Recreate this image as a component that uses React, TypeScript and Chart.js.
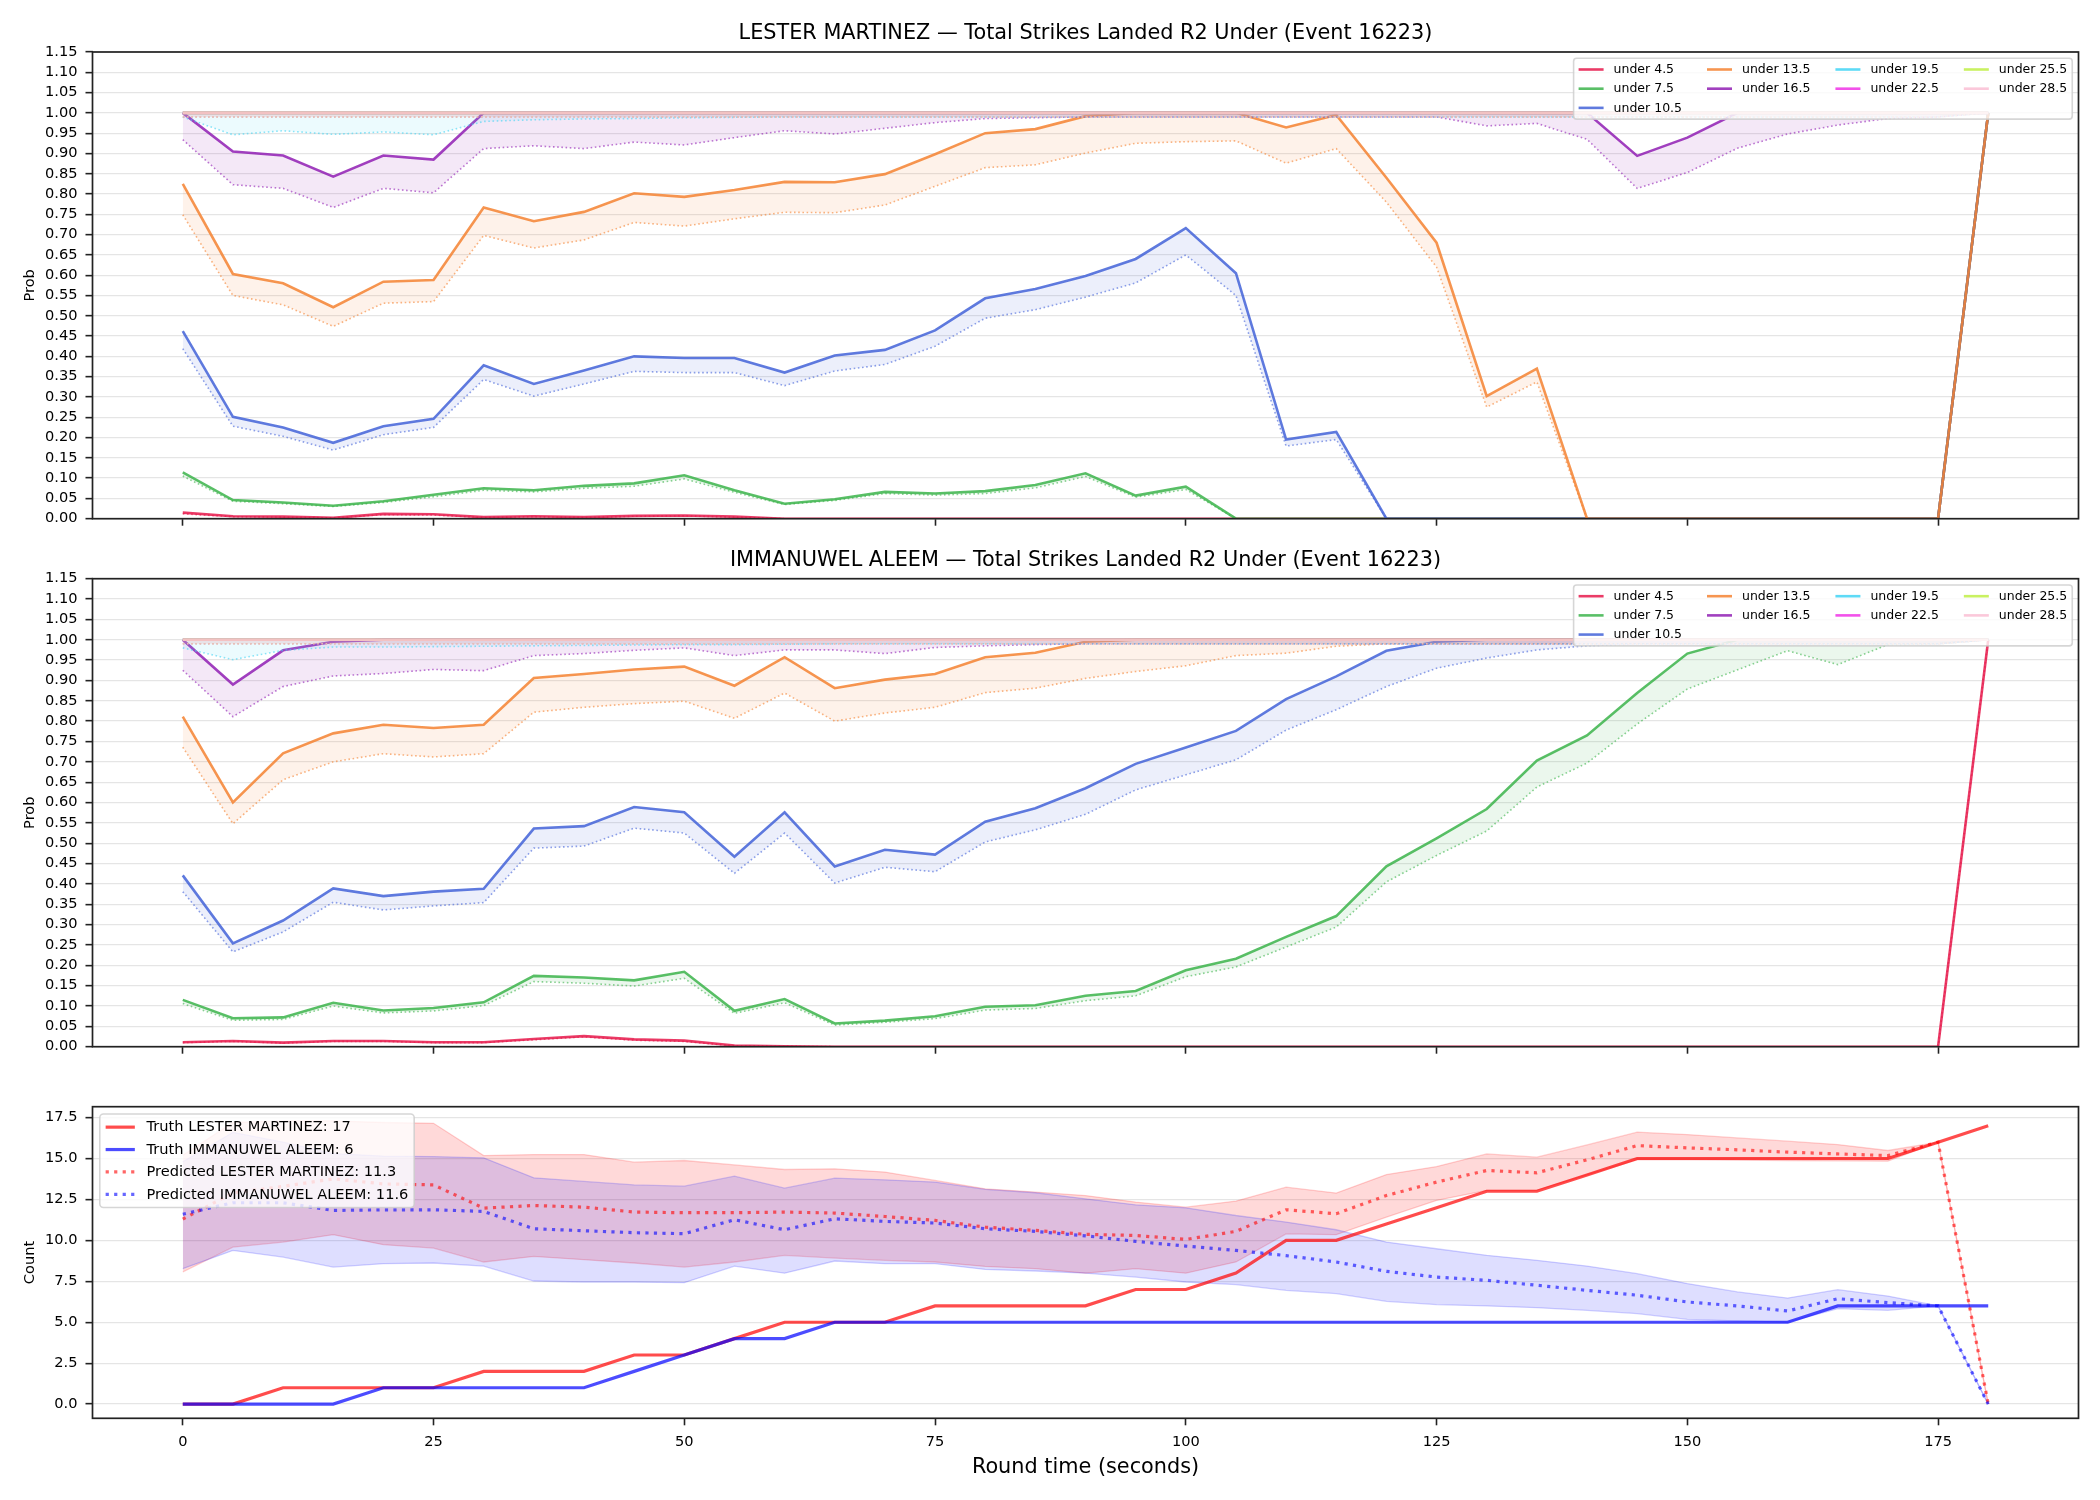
import React, { useEffect, useRef } from "react";
import { Chart, registerables } from "chart.js";

Chart.register(...registerables);

// ---------------------------------------------------------------------------
// Data
// ---------------------------------------------------------------------------
const TIMES = [0, 5, 10, 15, 20, 25, 30, 35, 40, 45, 50, 55, 60, 65, 70, 75, 80, 85, 90, 95, 100, 105, 110, 115, 120, 125, 130, 135, 140, 145, 150, 155, 160, 165, 170, 175, 180];
const TIME_TICKS = [0, 25, 50, 75, 100, 125, 150, 175];
const PROB_TICKS = [0, 0.05, 0.1, 0.15, 0.2, 0.25, 0.3, 0.35, 0.4, 0.45, 0.5, 0.55, 0.6, 0.65, 0.7, 0.75, 0.8, 0.85, 0.9, 0.95, 1.0, 1.05, 1.1, 1.15];
const COUNT_TICKS = [0, 2.5, 5, 7.5, 10, 12.5, 15, 17.5];

const FIGHTER_A = "LESTER MARTINEZ";
const FIGHTER_B = "IMMANUWEL ALEEM";
const EVENT_ID = 16223;

const THRESHOLDS = ["under 4.5", "under 7.5", "under 10.5", "under 13.5", "under 16.5", "under 19.5", "under 22.5", "under 25.5", "under 28.5"];
const SERIES_COLORS = ["#e6194B", "#3cb44b", "#4363d8", "#f58231", "#911eb4", "#42d4f4", "#f032e6", "#bfef45", "#fabed4"];

// LESTER MARTINEZ: live probability (solid) and model prediction (dotted)
const MARTINEZ_U4_5 = [0.015, 0.006, 0.005, 0.002, 0.012, 0.011, 0.004, 0.006, 0.004, 0.007, 0.008, 0.005, 0, 0, 0, 0, 0, 0, 0, 0, 0, 0, 0, 0, 0, 0, 0, 0, 0, 0, 0, 0, 0, 0, 0, 0, 1.0];
const MARTINEZ_U4_5_PRED = [0.012, 0.005, 0.004, 0.002, 0.010, 0.009, 0.003, 0.005, 0.003, 0.006, 0.007, 0.004, 0, 0, 0, 0, 0, 0, 0, 0, 0, 0, 0, 0, 0, 0, 0, 0, 0, 0, 0, 0, 0, 0, 0, 0, 1.0];
const MARTINEZ_U7_5 = [0.114, 0.046, 0.040, 0.032, 0.043, 0.059, 0.075, 0.070, 0.081, 0.087, 0.107, 0.070, 0.037, 0.048, 0.066, 0.062, 0.068, 0.083, 0.112, 0.057, 0.079, 0, 0, 0, 0, 0, 0, 0, 0, 0, 0, 0, 0, 0, 0, 0, 1.0];
const MARTINEZ_U7_5_PRED = [0.105, 0.043, 0.037, 0.030, 0.040, 0.054, 0.070, 0.066, 0.075, 0.080, 0.098, 0.065, 0.035, 0.045, 0.062, 0.058, 0.062, 0.076, 0.104, 0.053, 0.072, 0, 0, 0, 0, 0, 0, 0, 0, 0, 0, 0, 0, 0, 0, 0, 1.0];
const MARTINEZ_U10_5 = [0.462, 0.251, 0.225, 0.187, 0.228, 0.246, 0.378, 0.332, 0.365, 0.400, 0.396, 0.396, 0.360, 0.402, 0.416, 0.464, 0.543, 0.566, 0.598, 0.640, 0.716, 0.605, 0.195, 0.214, 0, 0, 0, 0, 0, 0, 0, 0, 0, 0, 0, 0, 1.0];
const MARTINEZ_U10_5_PRED = [0.419, 0.228, 0.203, 0.169, 0.207, 0.225, 0.343, 0.302, 0.332, 0.363, 0.360, 0.360, 0.328, 0.364, 0.380, 0.425, 0.494, 0.515, 0.546, 0.581, 0.650, 0.550, 0.179, 0.195, 0, 0, 0, 0, 0, 0, 0, 0, 0, 0, 0, 0, 1.0];
const MARTINEZ_U13_5 = [0.825, 0.603, 0.580, 0.521, 0.584, 0.588, 0.767, 0.733, 0.756, 0.802, 0.793, 0.810, 0.830, 0.829, 0.849, 0.898, 0.950, 0.960, 0.992, 1.0, 1.0, 1.0, 0.964, 0.995, 0.840, 0.680, 0.302, 0.370, 0, 0, 0, 0, 0, 0, 0, 0, 1.0];
const MARTINEZ_U13_5_PRED = [0.749, 0.550, 0.527, 0.474, 0.531, 0.535, 0.698, 0.667, 0.687, 0.730, 0.721, 0.739, 0.755, 0.754, 0.773, 0.819, 0.865, 0.872, 0.901, 0.925, 0.929, 0.931, 0.876, 0.912, 0.780, 0.620, 0.275, 0.337, 0, 0, 0, 0, 0, 0, 0, 0, 1.0];
const MARTINEZ_U16_5 = [1.0, 0.905, 0.895, 0.843, 0.895, 0.885, 1.0, 1.0, 1.0, 1.0, 1.0, 1.0, 1.0, 1.0, 1.0, 1.0, 1.0, 1.0, 1.0, 1.0, 1.0, 1.0, 1.0, 1.0, 1.0, 1.0, 1.0, 1.0, 1.0, 0.894, 0.939, 1.0, 1.0, 1.0, 1.0, 1.0, 1.0];
const MARTINEZ_U16_5_PRED = [0.934, 0.823, 0.814, 0.767, 0.814, 0.803, 0.912, 0.919, 0.912, 0.928, 0.921, 0.939, 0.956, 0.948, 0.962, 0.976, 0.986, 0.988, 0.990, 0.990, 0.990, 0.990, 0.990, 0.990, 0.990, 0.990, 0.968, 0.974, 0.935, 0.814, 0.853, 0.913, 0.948, 0.970, 0.986, 0.990, 1.0];
const MARTINEZ_U19_5 = [1.0, 1.0, 1.0, 1.0, 1.0, 1.0, 1.0, 1.0, 1.0, 1.0, 1.0, 1.0, 1.0, 1.0, 1.0, 1.0, 1.0, 1.0, 1.0, 1.0, 1.0, 1.0, 1.0, 1.0, 1.0, 1.0, 1.0, 1.0, 1.0, 1.0, 1.0, 1.0, 1.0, 1.0, 1.0, 1.0, 1.0];
const MARTINEZ_U19_5_PRED = [0.990, 0.946, 0.956, 0.947, 0.953, 0.946, 0.979, 0.983, 0.985, 0.986, 0.988, 0.989, 0.990, 0.990, 0.990, 0.990, 0.990, 0.990, 0.990, 0.990, 0.990, 0.990, 0.990, 0.990, 0.990, 0.990, 0.990, 0.990, 0.990, 0.990, 0.990, 0.990, 0.990, 0.990, 0.990, 0.990, 1.0];
const MARTINEZ_U22_5 = [1.0, 1.0, 1.0, 1.0, 1.0, 1.0, 1.0, 1.0, 1.0, 1.0, 1.0, 1.0, 1.0, 1.0, 1.0, 1.0, 1.0, 1.0, 1.0, 1.0, 1.0, 1.0, 1.0, 1.0, 1.0, 1.0, 1.0, 1.0, 1.0, 1.0, 1.0, 1.0, 1.0, 1.0, 1.0, 1.0, 1.0];
const MARTINEZ_U22_5_PRED = [0.990, 0.990, 0.990, 0.990, 0.990, 0.990, 0.990, 0.990, 0.990, 0.990, 0.990, 0.990, 0.990, 0.990, 0.990, 0.990, 0.990, 0.990, 0.990, 0.990, 0.990, 0.990, 0.990, 0.990, 0.990, 0.990, 0.990, 0.990, 0.990, 0.990, 0.990, 0.990, 0.990, 0.990, 0.990, 0.990, 1.0];
const MARTINEZ_U25_5 = [1.0, 1.0, 1.0, 1.0, 1.0, 1.0, 1.0, 1.0, 1.0, 1.0, 1.0, 1.0, 1.0, 1.0, 1.0, 1.0, 1.0, 1.0, 1.0, 1.0, 1.0, 1.0, 1.0, 1.0, 1.0, 1.0, 1.0, 1.0, 1.0, 1.0, 1.0, 1.0, 1.0, 1.0, 1.0, 1.0, 1.0];
const MARTINEZ_U25_5_PRED = [0.990, 0.990, 0.990, 0.990, 0.990, 0.990, 0.990, 0.990, 0.990, 0.990, 0.990, 0.990, 0.990, 0.990, 0.990, 0.990, 0.990, 0.990, 0.990, 0.990, 0.990, 0.990, 0.990, 0.990, 0.990, 0.990, 0.990, 0.990, 0.990, 0.990, 0.990, 0.990, 0.990, 0.990, 0.990, 0.990, 1.0];
const MARTINEZ_U28_5 = [1.0, 1.0, 1.0, 1.0, 1.0, 1.0, 1.0, 1.0, 1.0, 1.0, 1.0, 1.0, 1.0, 1.0, 1.0, 1.0, 1.0, 1.0, 1.0, 1.0, 1.0, 1.0, 1.0, 1.0, 1.0, 1.0, 1.0, 1.0, 1.0, 1.0, 1.0, 1.0, 1.0, 1.0, 1.0, 1.0, 1.0];
const MARTINEZ_U28_5_PRED = [0.990, 0.990, 0.990, 0.990, 0.990, 0.990, 0.990, 0.990, 0.990, 0.990, 0.990, 0.990, 0.990, 0.990, 0.990, 0.990, 0.990, 0.990, 0.990, 0.990, 0.990, 0.990, 0.990, 0.990, 0.990, 0.990, 0.990, 0.990, 0.990, 0.990, 0.990, 0.990, 0.990, 0.990, 0.990, 0.990, 1.0];

// IMMANUWEL ALEEM: live probability (solid) and model prediction (dotted)
const ALEEM_U4_5 = [0.011, 0.014, 0.010, 0.014, 0.014, 0.011, 0.011, 0.019, 0.026, 0.018, 0.015, 0.003, 0.001, 0, 0, 0, 0, 0, 0, 0, 0, 0, 0, 0, 0, 0, 0, 0, 0, 0, 0, 0, 0, 0, 0, 0, 1.0];
const ALEEM_U4_5_PRED = [0.010, 0.013, 0.009, 0.013, 0.013, 0.010, 0.010, 0.017, 0.024, 0.016, 0.013, 0.002, 0.001, 0, 0, 0, 0, 0, 0, 0, 0, 0, 0, 0, 0, 0, 0, 0, 0, 0, 0, 0, 0, 0, 0, 0, 1.0];
const ALEEM_U7_5 = [0.115, 0.070, 0.072, 0.108, 0.089, 0.095, 0.109, 0.174, 0.170, 0.163, 0.184, 0.088, 0.117, 0.057, 0.064, 0.075, 0.098, 0.102, 0.125, 0.137, 0.188, 0.216, 0.270, 0.321, 0.443, 0.512, 0.584, 0.703, 0.765, 0.869, 0.966, 1.0, 1.0, 1.0, 1.0, 1.0, 1.0];
const ALEEM_U7_5_PRED = [0.106, 0.065, 0.067, 0.100, 0.083, 0.088, 0.101, 0.160, 0.156, 0.149, 0.168, 0.082, 0.108, 0.053, 0.060, 0.069, 0.090, 0.094, 0.113, 0.125, 0.172, 0.196, 0.245, 0.294, 0.405, 0.470, 0.530, 0.638, 0.697, 0.793, 0.879, 0.926, 0.973, 0.939, 0.988, 0.990, 1.0];
const ALEEM_U10_5 = [0.421, 0.254, 0.310, 0.389, 0.370, 0.381, 0.388, 0.536, 0.542, 0.589, 0.576, 0.467, 0.576, 0.443, 0.484, 0.472, 0.553, 0.586, 0.635, 0.695, 0.735, 0.776, 0.854, 0.910, 0.973, 0.995, 1.0, 1.0, 1.0, 1.0, 1.0, 1.0, 1.0, 1.0, 1.0, 1.0, 1.0];
const ALEEM_U10_5_PRED = [0.381, 0.233, 0.282, 0.355, 0.336, 0.346, 0.354, 0.488, 0.493, 0.537, 0.525, 0.426, 0.525, 0.402, 0.441, 0.430, 0.503, 0.533, 0.571, 0.631, 0.668, 0.705, 0.778, 0.828, 0.885, 0.930, 0.955, 0.975, 0.985, 0.990, 0.990, 0.990, 0.990, 0.990, 0.990, 0.990, 1.0];
const ALEEM_U13_5 = [0.811, 0.600, 0.721, 0.770, 0.791, 0.783, 0.791, 0.906, 0.916, 0.927, 0.934, 0.887, 0.957, 0.881, 0.902, 0.916, 0.957, 0.968, 0.995, 1.0, 1.0, 1.0, 1.0, 1.0, 1.0, 1.0, 1.0, 1.0, 1.0, 1.0, 1.0, 1.0, 1.0, 1.0, 1.0, 1.0, 1.0];
const ALEEM_U13_5_PRED = [0.736, 0.548, 0.656, 0.700, 0.720, 0.712, 0.720, 0.822, 0.834, 0.843, 0.849, 0.807, 0.869, 0.800, 0.820, 0.834, 0.870, 0.881, 0.905, 0.922, 0.936, 0.961, 0.967, 0.984, 0.990, 0.990, 0.990, 0.990, 0.990, 0.990, 0.990, 0.990, 0.990, 0.990, 0.990, 0.990, 1.0];
const ALEEM_U16_5 = [1.0, 0.890, 0.974, 0.995, 1.0, 1.0, 1.0, 1.0, 1.0, 1.0, 1.0, 1.0, 1.0, 1.0, 1.0, 1.0, 1.0, 1.0, 1.0, 1.0, 1.0, 1.0, 1.0, 1.0, 1.0, 1.0, 1.0, 1.0, 1.0, 1.0, 1.0, 1.0, 1.0, 1.0, 1.0, 1.0, 1.0];
const ALEEM_U16_5_PRED = [0.925, 0.811, 0.885, 0.911, 0.917, 0.927, 0.924, 0.961, 0.966, 0.974, 0.980, 0.961, 0.975, 0.975, 0.966, 0.981, 0.985, 0.988, 0.990, 0.990, 0.990, 0.990, 0.990, 0.990, 0.990, 0.990, 0.990, 0.990, 0.990, 0.990, 0.990, 0.990, 0.990, 0.990, 0.990, 0.990, 1.0];
const ALEEM_U19_5 = [1.0, 1.0, 1.0, 1.0, 1.0, 1.0, 1.0, 1.0, 1.0, 1.0, 1.0, 1.0, 1.0, 1.0, 1.0, 1.0, 1.0, 1.0, 1.0, 1.0, 1.0, 1.0, 1.0, 1.0, 1.0, 1.0, 1.0, 1.0, 1.0, 1.0, 1.0, 1.0, 1.0, 1.0, 1.0, 1.0, 1.0];
const ALEEM_U19_5_PRED = [0.980, 0.951, 0.974, 0.982, 0.982, 0.983, 0.984, 0.985, 0.986, 0.987, 0.988, 0.988, 0.989, 0.990, 0.990, 0.990, 0.990, 0.990, 0.990, 0.990, 0.990, 0.990, 0.990, 0.990, 0.990, 0.990, 0.990, 0.990, 0.990, 0.990, 0.990, 0.990, 0.990, 0.990, 0.990, 0.990, 1.0];
const ALEEM_U22_5 = [1.0, 1.0, 1.0, 1.0, 1.0, 1.0, 1.0, 1.0, 1.0, 1.0, 1.0, 1.0, 1.0, 1.0, 1.0, 1.0, 1.0, 1.0, 1.0, 1.0, 1.0, 1.0, 1.0, 1.0, 1.0, 1.0, 1.0, 1.0, 1.0, 1.0, 1.0, 1.0, 1.0, 1.0, 1.0, 1.0, 1.0];
const ALEEM_U22_5_PRED = [0.990, 0.990, 0.990, 0.990, 0.990, 0.990, 0.990, 0.990, 0.990, 0.990, 0.990, 0.990, 0.990, 0.990, 0.990, 0.990, 0.990, 0.990, 0.990, 0.990, 0.990, 0.990, 0.990, 0.990, 0.990, 0.990, 0.990, 0.990, 0.990, 0.990, 0.990, 0.990, 0.990, 0.990, 0.990, 0.990, 1.0];
const ALEEM_U25_5 = [1.0, 1.0, 1.0, 1.0, 1.0, 1.0, 1.0, 1.0, 1.0, 1.0, 1.0, 1.0, 1.0, 1.0, 1.0, 1.0, 1.0, 1.0, 1.0, 1.0, 1.0, 1.0, 1.0, 1.0, 1.0, 1.0, 1.0, 1.0, 1.0, 1.0, 1.0, 1.0, 1.0, 1.0, 1.0, 1.0, 1.0];
const ALEEM_U25_5_PRED = [0.990, 0.990, 0.990, 0.990, 0.990, 0.990, 0.990, 0.990, 0.990, 0.990, 0.990, 0.990, 0.990, 0.990, 0.990, 0.990, 0.990, 0.990, 0.990, 0.990, 0.990, 0.990, 0.990, 0.990, 0.990, 0.990, 0.990, 0.990, 0.990, 0.990, 0.990, 0.990, 0.990, 0.990, 0.990, 0.990, 1.0];
const ALEEM_U28_5 = [1.0, 1.0, 1.0, 1.0, 1.0, 1.0, 1.0, 1.0, 1.0, 1.0, 1.0, 1.0, 1.0, 1.0, 1.0, 1.0, 1.0, 1.0, 1.0, 1.0, 1.0, 1.0, 1.0, 1.0, 1.0, 1.0, 1.0, 1.0, 1.0, 1.0, 1.0, 1.0, 1.0, 1.0, 1.0, 1.0, 1.0];
const ALEEM_U28_5_PRED = [0.990, 0.990, 0.990, 0.990, 0.990, 0.990, 0.990, 0.990, 0.990, 0.990, 0.990, 0.990, 0.990, 0.990, 0.990, 0.990, 0.990, 0.990, 0.990, 0.990, 0.990, 0.990, 0.990, 0.990, 0.990, 0.990, 0.990, 0.990, 0.990, 0.990, 0.990, 0.990, 0.990, 0.990, 0.990, 0.990, 1.0];

// Cumulative strike counts
const TRUTH_MARTINEZ = [0, 0, 1, 1, 1, 1, 2, 2, 2, 3, 3, 4, 5, 5, 5, 6, 6, 6, 6, 7, 7, 8, 10, 10, 11, 12, 13, 13, 14, 15, 15, 15, 15, 15, 15, 16, 17];
const TRUTH_ALEEM = [0, 0, 0, 0, 1, 1, 1, 1, 1, 2, 3, 4, 4, 5, 5, 5, 5, 5, 5, 5, 5, 5, 5, 5, 5, 5, 5, 5, 5, 5, 5, 5, 5, 6, 6, 6, 6];
const PRED_MARTINEZ = [11.3, 12.9, 13.3, 13.76, 13.45, 13.39, 11.97, 12.13, 12.03, 11.73, 11.69, 11.69, 11.73, 11.67, 11.46, 11.22, 10.81, 10.61, 10.37, 10.30, 10.06, 10.55, 11.87, 11.63, 12.74, 13.56, 14.27, 14.13, 14.92, 15.79, 15.65, 15.53, 15.39, 15.28, 15.18, 16.0, 0];
const PRED_ALEEM = [11.6, 12.3, 12.3, 11.83, 11.87, 11.87, 11.77, 10.71, 10.59, 10.47, 10.41, 11.26, 10.65, 11.32, 11.16, 11.06, 10.71, 10.55, 10.28, 9.94, 9.65, 9.39, 9.07, 8.68, 8.11, 7.76, 7.56, 7.26, 6.95, 6.65, 6.24, 6.0, 5.69, 6.44, 6.2, 6.0, 0];
const LOW_MARTINEZ = [8.07, 9.59, 9.9, 10.35, 9.74, 9.53, 8.68, 9.02, 8.82, 8.62, 8.37, 8.68, 9.09, 8.92, 8.78, 8.68, 8.41, 8.27, 8.0, 8.27, 8.0, 8.68, 10.4, 10.35, 11.42, 12.44, 13.05, 13.05, 14.0, 14.92, 14.92, 14.9, 14.88, 14.86, 14.84, 16.0, 0];
const HIGH_MARTINEZ = [15.2, 17.2, 17.3, 17.3, 17.2, 17.15, 15.18, 15.24, 15.24, 14.78, 14.88, 14.61, 14.33, 14.37, 14.17, 13.66, 13.15, 12.95, 12.74, 12.34, 12.03, 12.4, 13.25, 12.89, 14.02, 14.51, 15.28, 15.08, 15.83, 16.61, 16.46, 16.26, 16.06, 15.85, 15.49, 16.0, 0];
const LOW_ALEEM = [8.27, 9.39, 8.98, 8.37, 8.58, 8.62, 8.43, 7.52, 7.46, 7.46, 7.42, 8.43, 8.0, 8.74, 8.58, 8.58, 8.23, 8.13, 8.0, 7.76, 7.46, 7.3, 6.95, 6.75, 6.28, 6.08, 6.0, 5.89, 5.73, 5.53, 5.18, 5.08, 5.0, 5.83, 5.73, 6.0, 0];
const HIGH_ALEEM = [14.8, 16.6, 16.0, 15.3, 15.15, 15.12, 15.04, 13.82, 13.6, 13.39, 13.31, 13.92, 13.19, 13.8, 13.7, 13.56, 13.11, 12.91, 12.54, 12.17, 11.99, 11.52, 11.12, 10.65, 9.9, 9.49, 9.09, 8.78, 8.43, 7.97, 7.36, 6.85, 6.48, 6.99, 6.6, 6.0, 0];

const MARTINEZ_LINES = [MARTINEZ_U4_5, MARTINEZ_U7_5, MARTINEZ_U10_5, MARTINEZ_U13_5, MARTINEZ_U16_5, MARTINEZ_U19_5, MARTINEZ_U22_5, MARTINEZ_U25_5, MARTINEZ_U28_5];
const MARTINEZ_PREDS = [MARTINEZ_U4_5_PRED, MARTINEZ_U7_5_PRED, MARTINEZ_U10_5_PRED, MARTINEZ_U13_5_PRED, MARTINEZ_U16_5_PRED, MARTINEZ_U19_5_PRED, MARTINEZ_U22_5_PRED, MARTINEZ_U25_5_PRED, MARTINEZ_U28_5_PRED];
const ALEEM_LINES = [ALEEM_U4_5, ALEEM_U7_5, ALEEM_U10_5, ALEEM_U13_5, ALEEM_U16_5, ALEEM_U19_5, ALEEM_U22_5, ALEEM_U25_5, ALEEM_U28_5];
const ALEEM_PREDS = [ALEEM_U4_5_PRED, ALEEM_U7_5_PRED, ALEEM_U10_5_PRED, ALEEM_U13_5_PRED, ALEEM_U16_5_PRED, ALEEM_U19_5_PRED, ALEEM_U22_5_PRED, ALEEM_U25_5_PRED, ALEEM_U28_5_PRED];

// ---------------------------------------------------------------------------
// Styling helpers
// ---------------------------------------------------------------------------
const FONT = '"DejaVu Sans", "Liberation Sans", sans-serif';
const INK = "#000000";
const SPINE = "#222222";
const GRID = "#e5e5e5";
const PAGE_W = 2100;
const AREA_LEFT = 92.5;
const AREA_RIGHT = 2078.5;
const TICK_FONT = 14.6;
const TITLE_FONT = 20.8;

Chart.defaults.font.family = FONT;

const rgba = (hex: string, a: number) => {
  const n = parseInt(hex.slice(1), 16);
  return `rgba(${(n >> 16) & 255},${(n >> 8) & 255},${n & 255},${a})`;
};

const pts = (values: number[]) => TIMES.map((t, i) => ({ x: t, y: values[i] }));

type LegendItem = { label: string; color: string; width: number; dash: number[] };
type LegendSpec = { items: LegendItem[]; fontSize: number; ncol: number; corner: "ur" | "ul" };

function drawLegend(ctx: CanvasRenderingContext2D, area: any, spec: LegendSpec) {
  const fs = spec.fontSize;
  ctx.font = `${fs}px ${FONT}`;
  const n = spec.items.length;
  const ncol = spec.ncol;
  const nrow = Math.ceil(n / ncol);
  const extra = n % ncol;
  const cols: LegendItem[][] = [];
  let k = 0;
  for (let c = 0; c < ncol; c++) {
    const cnt = extra === 0 || c < extra ? nrow : nrow - 1;
    cols.push(spec.items.slice(k, k + cnt));
    k += cnt;
  }
  const handle = 2 * fs;
  const textPad = 0.8 * fs;
  const colSpace = 2 * fs;
  const borderPad = 0.4 * fs;
  const colW = cols.map((col) => handle + textPad + Math.max(...col.map((it) => ctx.measureText(it.label).width)));
  const width = 2 * borderPad + colW.reduce((a, b) => a + b, 0) + colSpace * (ncol - 1);
  const rowStep = 1.535 * fs;
  const height = 1.8 * fs + (nrow - 1) * rowStep;
  const axPad = 0.5 * fs;
  const left = spec.corner === "ur" ? area.right - axPad - width : area.left + axPad;
  const top = area.top + axPad;

  ctx.save();
  ctx.beginPath();
  const r = 0.25 * fs;
  if ((ctx as any).roundRect) (ctx as any).roundRect(left, top, width, height, r);
  else ctx.rect(left, top, width, height);
  ctx.fillStyle = "rgba(255,255,255,0.8)";
  ctx.fill();
  ctx.lineWidth = 1.6;
  ctx.strokeStyle = "rgba(204,204,204,0.8)";
  ctx.stroke();

  let x = left + borderPad;
  cols.forEach((col, c) => {
    col.forEach((it, row) => {
      const cy = top + 0.9 * fs + row * rowStep;
      ctx.beginPath();
      ctx.setLineDash(it.dash);
      ctx.lineWidth = it.width;
      ctx.strokeStyle = it.color;
      ctx.lineCap = "butt";
      ctx.moveTo(x, cy);
      ctx.lineTo(x + handle, cy);
      ctx.stroke();
      ctx.setLineDash([]);
      ctx.fillStyle = INK;
      ctx.textAlign = "left";
      ctx.textBaseline = "middle";
      ctx.fillText(it.label, x + handle + textPad, cy + 0.5);
    });
    x += colW[c] + colSpace;
  });
  ctx.restore();
}

// Frame (all four spines), panel title and legend drawn on top of the plot
function decor(title: string | null, titleY: number, legend: LegendSpec) {
  return {
    id: "figureDecor",
    afterDraw(chart: any) {
      const { ctx, chartArea: a } = chart;
      ctx.save();
      ctx.strokeStyle = SPINE;
      ctx.lineWidth = 1.7;
      ctx.setLineDash([]);
      ctx.strokeRect(a.left, a.top, a.right - a.left, a.bottom - a.top);
      if (title) {
        ctx.font = `${TITLE_FONT}px ${FONT}`;
        ctx.fillStyle = INK;
        ctx.textAlign = "center";
        ctx.textBaseline = "middle";
        ctx.fillText(title, (a.left + a.right) / 2, titleY);
      }
      ctx.restore();
      drawLegend(ctx, a, legend);
    },
  };
}

type Box = { canvasTop: number; canvasHeight: number; areaTop: number; areaBottom: number; xAxisHeight: number };

function xScale(showLabels: boolean, xAxisHeight: number) {
  return {
    type: "linear",
    min: -9,
    max: 189,
    afterBuildTicks: (s: any) => {
      s.ticks = TIME_TICKS.map((v) => ({ value: v }));
    },
    afterFit: (s: any) => {
      s.height = xAxisHeight;
    },
    border: { display: false },
    grid: { display: true, drawOnChartArea: false, drawTicks: true, tickLength: 7, tickColor: SPINE, tickWidth: 1.6 },
    ticks: {
      display: showLabels,
      autoSkip: false,
      maxRotation: 0,
      padding: 8,
      color: INK,
      font: { size: TICK_FONT },
      callback: (v: any) => String(v),
    },
    title: showLabels
      ? { display: true, text: "Round time (seconds)", color: INK, font: { size: TITLE_FONT }, padding: { top: 0, bottom: 8.5 } }
      : { display: false },
  };
}

function yScale(label: string, min: number, max: number, tickValues: number[], digits: number) {
  return {
    type: "linear",
    min,
    max,
    afterBuildTicks: (s: any) => {
      s.ticks = tickValues.map((v) => ({ value: v }));
    },
    afterFit: (s: any) => {
      s.width = AREA_LEFT;
    },
    border: { display: false },
    grid: { color: GRID, lineWidth: 1.3, drawTicks: true, tickLength: 7, tickColor: SPINE, tickWidth: 1.6 },
    ticks: {
      autoSkip: false,
      padding: 8,
      color: INK,
      font: { size: TICK_FONT },
      callback: (v: any) => Number(v).toFixed(digits),
    },
    title: { display: true, text: label, color: INK, font: { size: TICK_FONT }, padding: { top: 21, bottom: 0 } },
  };
}

function layoutFor(box: Box) {
  return {
    autoPadding: false,
    padding: {
      left: 0,
      right: PAGE_W - AREA_RIGHT,
      top: box.areaTop - box.canvasTop,
      bottom: box.canvasTop + box.canvasHeight - box.areaBottom - box.xAxisHeight,
    },
  };
}

function probConfig(fighter: string, lines: number[][], preds: number[][], box: Box, titleY: number) {
  const datasets: any[] = [];
  THRESHOLDS.forEach((label, i) => {
    const c = SERIES_COLORS[i];
    datasets.push({
      label,
      data: pts(lines[i]),
      borderColor: rgba(c, 0.85),
      borderWidth: 2.6,
      backgroundColor: rgba(c, 0.1),
      fill: "+1",
      pointRadius: 0,
      tension: 0,
      order: 100 - datasets.length,
    });
    datasets.push({
      label: `${label} model`,
      data: pts(preds[i]),
      borderColor: rgba(c, 0.6),
      borderWidth: 1.6,
      borderDash: [1.6, 2.6],
      backgroundColor: "rgba(0,0,0,0)",
      fill: false,
      pointRadius: 0,
      tension: 0,
      order: 100 - datasets.length,
    });
  });
  const legend: LegendSpec = {
    items: THRESHOLDS.map((label, i) => ({ label, color: rgba(SERIES_COLORS[i], 0.85), width: 2.6, dash: [] })),
    fontSize: 12.5,
    ncol: 4,
    corner: "ur",
  };
  return {
    type: "line",
    data: { datasets },
    options: {
      animation: false,
      responsive: false,
      devicePixelRatio: 1,
      layout: layoutFor(box),
      plugins: { legend: { display: false }, tooltip: { enabled: false }, title: { display: false } },
      scales: {
        x: xScale(false, box.xAxisHeight),
        y: yScale("Prob", 0, 1.15, PROB_TICKS, 2),
      },
    },
    plugins: [decor(`${fighter} \u2014 Total Strikes Landed R2 Under (Event ${EVENT_ID})`, titleY, legend)],
  };
}

function countConfig(box: Box) {
  const red = "#ff0000";
  const blue = "#0000ff";
  const base = { pointRadius: 0, tension: 0 };
  const datasets: any[] = [
    { ...base, label: "band hi A", data: pts(HIGH_MARTINEZ), borderColor: rgba(red, 0.18), borderWidth: 1.3, backgroundColor: rgba(red, 0.15), fill: "+1" },
    { ...base, label: "band lo A", data: pts(LOW_MARTINEZ), borderColor: rgba(red, 0.18), borderWidth: 1.3, fill: false },
    { ...base, label: "band hi B", data: pts(HIGH_ALEEM), borderColor: rgba(blue, 0.18), borderWidth: 1.3, backgroundColor: rgba(blue, 0.13), fill: "+1" },
    { ...base, label: "band lo B", data: pts(LOW_ALEEM), borderColor: rgba(blue, 0.18), borderWidth: 1.3, fill: false },
    { ...base, label: "truth A", data: pts(TRUTH_MARTINEZ), borderColor: rgba(red, 0.7), borderWidth: 3.2, fill: false },
    { ...base, label: "truth B", data: pts(TRUTH_ALEEM), borderColor: rgba(blue, 0.7), borderWidth: 3.2, fill: false },
    { ...base, label: "pred A", data: pts(PRED_MARTINEZ), borderColor: rgba(red, 0.6), borderWidth: 3.2, borderDash: [3.2, 5.3], fill: false },
    { ...base, label: "pred B", data: pts(PRED_ALEEM), borderColor: rgba(blue, 0.6), borderWidth: 3.2, borderDash: [3.2, 5.3], fill: false },
  ];
  datasets.forEach((d, i) => (d.order = 100 - i));

  const last = TRUTH_MARTINEZ.length - 1;
  const legend: LegendSpec = {
    items: [
      { label: `Truth ${FIGHTER_A}: ${TRUTH_MARTINEZ[last]}`, color: rgba(red, 0.7), width: 3.2, dash: [] },
      { label: `Truth ${FIGHTER_B}: ${TRUTH_ALEEM[last]}`, color: rgba(blue, 0.7), width: 3.2, dash: [] },
      { label: `Predicted ${FIGHTER_A}: ${PRED_MARTINEZ[0].toFixed(1)}`, color: rgba(red, 0.6), width: 3.2, dash: [3.2, 5.3] },
      { label: `Predicted ${FIGHTER_B}: ${PRED_ALEEM[0].toFixed(1)}`, color: rgba(blue, 0.6), width: 3.2, dash: [3.2, 5.3] },
    ],
    fontSize: 14.6,
    ncol: 1,
    corner: "ul",
  };
  return {
    type: "line",
    data: { datasets },
    options: {
      animation: false,
      responsive: false,
      devicePixelRatio: 1,
      layout: layoutFor(box),
      plugins: { legend: { display: false }, tooltip: { enabled: false }, title: { display: false } },
      scales: {
        x: xScale(true, box.xAxisHeight),
        y: yScale("Count", -0.865, 18.165, COUNT_TICKS, 1),
      },
    },
    plugins: [decor(null, 0, legend)],
  };
}

// ---------------------------------------------------------------------------
// Panels
// ---------------------------------------------------------------------------
const TOP_BOX: Box = { canvasTop: 0, canvasHeight: 545, areaTop: 52, areaBottom: 518.7, xAxisHeight: 10 };
const MID_BOX: Box = { canvasTop: 545, canvasHeight: 530, areaTop: 578.7, areaBottom: 1046.7, xAxisHeight: 10 };
const BOTTOM_BOX: Box = { canvasTop: 1075, canvasHeight: 425, areaTop: 1106.7, areaBottom: 1418.3, xAxisHeight: 70 };

function Panel({ box, make }: { box: Box; make: () => any }) {
  const ref = useRef<HTMLCanvasElement | null>(null);
  useEffect(() => {
    if (!ref.current) return;
    const chart = new Chart(ref.current, make());
    return () => chart.destroy();
  }, []);
  return (
    <canvas
      ref={ref}
      width={PAGE_W}
      height={box.canvasHeight}
      style={{ position: "absolute", left: 0, top: box.canvasTop, width: PAGE_W, height: box.canvasHeight, display: "block" }}
    />
  );
}

export default function App() {
  return (
    <div style={{ position: "absolute", left: 0, top: 0, width: PAGE_W, height: 1500, background: "#ffffff", overflow: "hidden" }}>
      <Panel box={TOP_BOX} make={() => probConfig(FIGHTER_A, MARTINEZ_LINES, MARTINEZ_PREDS, TOP_BOX, 33.3)} />
      <Panel box={MID_BOX} make={() => probConfig(FIGHTER_B, ALEEM_LINES, ALEEM_PREDS, MID_BOX, 561 - MID_BOX.canvasTop)} />
      <Panel box={BOTTOM_BOX} make={() => countConfig(BOTTOM_BOX)} />
    </div>
  );
}
